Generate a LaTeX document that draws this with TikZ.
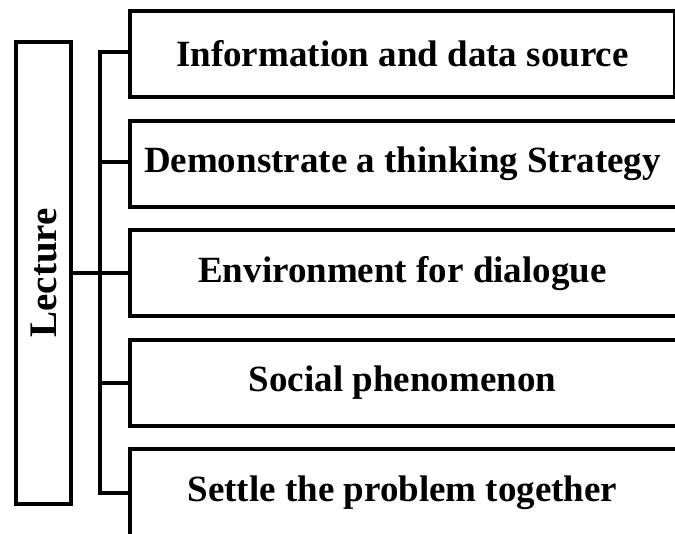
\documentclass[tikz,border=0pt]{standalone}
\usepackage{fontspec}
\setmainfont{Liberation Serif}
\begin{document}
\begin{tikzpicture}[x=1pt,y=-1pt,
  frame/.style={draw=black, line width=4pt},
  itembox/.style={frame, anchor=west, minimum height=86pt, inner sep=0pt,
    font=\fontsize{37}{44}\selectfont\bfseries},
  openbox/.style={itembox, minimum width=562pt},
  closedbox/.style={itembox, minimum width=545pt},
  wire/.style={line width=4pt, line cap=rect}
]
\useasboundingbox (0,0) rectangle (675,534);
% Lecture box
\node[frame, rotate=90, minimum width=462pt, minimum height=55pt, inner sep=0pt,
  font=\fontsize{39}{46}\selectfont\bfseries] (lect) at (43.5,273) {Lecture};
% item boxes
\node[closedbox] (b1) at (128,54) {Information and data source};
\node[openbox] (b2) at (128,164) {Demonstrate a thinking Strategy\hspace*{17pt}};
\node[openbox] (b3) at (128,273.5) {Environment for dialogue\hspace*{17pt}};
\node[openbox] (b4) at (128,383) {Social phenomenon\hspace*{17pt}};
\node[openbox, minimum height=88pt] (b5) at (128,493) {Settle the problem together\hspace*{17pt}};
% bus coordinates
\coordinate (c1) at (99.5,52);
\coordinate (c2) at (99.5,162.5);
\coordinate (c3) at (99.5,273);
\coordinate (c4) at (99.5,383);
\coordinate (c5) at (99.5,493);
\draw[wire] (c1) -- (c5);
\draw[wire] (lect.south) -- (c3);
\draw[wire] (c1) -- (b1.west |- c1);
\draw[wire] (c2) -- (b2.west |- c2);
\draw[wire] (c3) -- (b3.west |- c3);
\draw[wire] (c4) -- (b4.west |- c4);
\draw[wire] (c5) -- (b5.west |- c5);
\end{tikzpicture}
\end{document}
